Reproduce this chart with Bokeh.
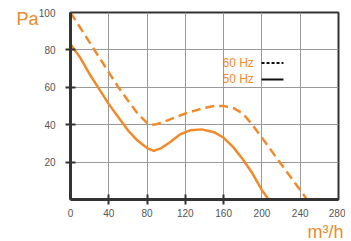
from bokeh.plotting import figure
from bokeh.models import Range1d, FixedTicker, Title, LinearAxis
from bokeh.core.properties import value
from bokeh.embed import file_html
from bokeh.resources import INLINE

# --- data ---
flow_60 = [0, 10, 20, 30, 40, 50, 60, 70, 80, 85, 90, 100, 110, 120, 130, 140, 150, 160, 170, 180, 190, 200, 210, 220, 230, 240, 247]
pres_60 = [100, 92, 84, 76, 68, 60, 53, 46, 41, 40, 40.3, 42, 44, 46, 47.5, 49, 50, 50, 49, 46, 40, 33, 26, 19, 12, 5, 0]

flow_50 = [0, 10, 20, 30, 40, 50, 60, 70, 80, 87, 95, 105, 115, 125, 137, 150, 160, 170, 180, 190, 200, 207]
pres_50 = [83, 76, 67, 59, 51, 44, 37, 31.5, 27.5, 26, 27.5, 31, 35, 37, 37.5, 36, 33, 28, 21.5, 14, 5, 0]

x_ticks = [0, 40, 80, 120, 160, 200, 240, 280]
x_tick_marks = [40, 80, 120, 160]
y_ticks = [20, 40, 60, 80, 100]
y_tick_marks = [20, 40, 60, 80]

legend_labels = ["60 Hz", "50 Hz"]

ORANGE = "#F08A2A"
DARK = "#333333"
FONT = "Liberation Sans"

p = figure(width=345, height=241, output_backend="svg", toolbar_location=None,
           x_range=Range1d(0, 280), y_range=Range1d(0, 100),
           min_border_left=70, min_border_right=7, min_border_top=12, min_border_bottom=0)
p.background_fill_color = "white"
p.border_fill_color = "white"
p.outline_line_color = DARK
p.outline_line_width = 2

p.xaxis.ticker = FixedTicker(ticks=x_ticks, minor_ticks=x_tick_marks)
p.yaxis.ticker = FixedTicker(ticks=y_ticks, minor_ticks=y_tick_marks)
for ax in (p.xaxis, p.yaxis):
    ax.axis_line_color = DARK
    ax.axis_line_width = 3
    ax.major_tick_in = 0
    ax.major_tick_out = 0
    ax.minor_tick_in = 5
    ax.minor_tick_out = 5
    ax.minor_tick_line_color = DARK
    ax.minor_tick_line_width = 2
    ax.major_label_text_font = FONT
    ax.major_label_text_font_size = "10px"
    ax.major_label_text_color = "#555555"
p.xaxis.major_label_standoff = 4
p.yaxis.major_label_standoff = 10

# unit label for the pressure axis (placed at the top end of the axis)
unit_axis = LinearAxis(ticker=FixedTicker(ticks=[]),
                       axis_line_color=None, major_tick_line_color=None, minor_tick_line_color=None,
                       major_label_text_font_size="0px",
                       axis_label=" \nPa", axis_label_orientation="horizontal",
                       axis_label_text_color=ORANGE, axis_label_text_font=FONT,
                       axis_label_text_font_size="18px", axis_label_text_font_style="normal",
                       axis_label_text_line_height=0.6,
                       axis_label_standoff=-3)
unit_axis.axis_label_align = "end"
p.add_layout(unit_axis, "left")

p.grid.grid_line_color = "#9a9a9a"
p.grid.grid_line_width = 1
p.xgrid.ticker = FixedTicker(ticks=x_ticks)
p.ygrid.ticker = FixedTicker(ticks=y_ticks)

p.line(flow_60, pres_60, line_color=ORANGE, line_width=2.5, line_dash="9 5")
p.line(flow_50, pres_50, line_color=ORANGE, line_width=2.5)

# legend (custom)
p.text(x=[158.8, 158.8], y=[73, 64.2], text=legend_labels, text_color=ORANGE,
       text_font=value(FONT), text_font_size="12px", text_baseline="middle")
p.segment(x0=[199.6], y0=[73], x1=[222.5], y1=[73], line_color="#111111", line_width=2, line_dash="3 2")
p.segment(x0=[199.6], y0=[64.2], x1=[222.5], y1=[64.2], line_color="#111111", line_width=2)

p.add_layout(Title(text="m³/h", align="right", offset=-5, text_color=ORANGE, text_font=FONT,
                   text_font_size="18px", text_font_style="normal", standoff=0), "below")

open("out.html", "w").write(file_html(p, INLINE))
